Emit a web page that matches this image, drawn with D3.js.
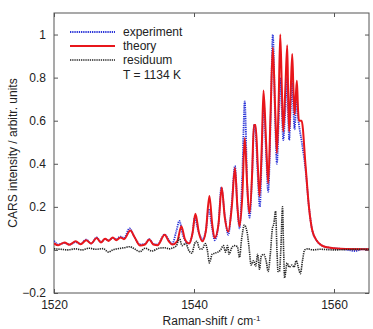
<!DOCTYPE html>
<html>
<head>
<meta charset="utf-8">
<script src="https://cdn.jsdelivr.net/npm/d3@7"></script>
<style>
  html, body { margin: 0; padding: 0; background: #fff; }
  svg { display: block; font-family: "Liberation Sans", Arial, sans-serif; }
</style>
</head>
<body>
<div id="chart"></div>
<script>
// Raman shift (cm^-1) and CARS intensity
const theoryShift = [1520.0,1520.6,1521.5,1522.2,1523.1,1523.8,1524.6,1525.3,1526.1,1526.7,1527.3,1527.8,1528.4,1528.9,1529.5,1530.0,1530.9,1531.5,1532.3,1533.0,1533.6,1534.2,1534.8,1535.8,1536.4,1536.9,1537.6,1538.2,1538.7,1539.3,1539.8,1540.2,1540.7,1541.2,1541.7,1542.2,1542.6,1542.95,1543.5,1543.96,1544.4,1544.9,1545.4,1545.85,1546.2,1546.5,1546.9,1547.25,1547.6,1547.92,1548.3,1548.55,1548.8,1549.1,1549.36,1549.7,1549.93,1550.3,1550.6,1550.95,1551.26,1551.6,1551.84,1552.1,1552.32,1552.55,1552.75,1553.05,1553.32,1553.46,1553.6,1553.8,1554.03,1554.2,1554.37,1554.55,1554.7,1554.85,1554.99,1555.37,1555.94,1556.42,1556.9,1557.6,1558.3,1559.05,1560.95,1565.0];
const theoryValues = [0.03,0.022,0.035,0.024,0.04,0.026,0.045,0.03,0.055,0.035,0.052,0.042,0.058,0.045,0.058,0.05,0.09,0.06,0.02,0.025,0.048,0.025,0.022,0.07,0.04,0.025,0.04,0.11,0.05,0.03,0.08,0.168,0.08,0.04,0.09,0.25,0.12,0.055,0.12,0.29,0.15,0.085,0.2,0.38,0.2,0.11,0.25,0.52,0.3,0.17,0.35,0.58,0.58,0.4,0.25,0.5,0.74,0.5,0.31,0.65,0.94,0.65,0.45,0.7,1.0,0.75,0.55,0.75,0.95,0.7,0.55,0.72,0.91,0.75,0.63,0.72,0.785,0.66,0.6,0.6,0.39,0.2,0.09,0.04,0.02,0.012,0.005,0.003];

const experimentShift = [1520.0,1520.6,1521.5,1522.2,1523.1,1523.8,1524.6,1525.3,1526.1,1526.7,1527.3,1527.8,1528.4,1528.9,1529.5,1530.0,1530.8,1531.5,1532.3,1533.0,1533.6,1534.2,1534.8,1535.8,1536.4,1536.9,1537.5,1537.9,1538.4,1539.2,1539.8,1540.1,1540.6,1541.2,1541.7,1542.1,1542.6,1542.95,1543.5,1543.9,1544.4,1544.9,1545.4,1545.85,1546.2,1546.5,1546.9,1547.25,1547.6,1547.95,1548.3,1548.6,1548.8,1549.1,1549.4,1549.7,1549.95,1550.3,1550.6,1550.95,1551.26,1551.6,1551.84,1552.1,1552.35,1552.55,1552.75,1553.05,1553.32,1553.46,1553.6,1553.8,1554.03,1554.2,1554.37,1554.55,1554.7,1554.85,1555.0,1555.4,1555.94,1556.42,1556.9,1557.6,1558.3,1559.05,1560.95,1562.0,1563.0,1564.0,1565.0];
const experimentValues = [0.042,0.026,0.032,0.025,0.036,0.028,0.048,0.03,0.058,0.036,0.05,0.045,0.055,0.05,0.062,0.055,0.1,0.06,0.025,0.028,0.05,0.028,0.025,0.072,0.045,0.03,0.09,0.135,0.07,0.03,0.08,0.15,0.09,0.05,0.09,0.19,0.1,0.045,0.12,0.29,0.16,0.07,0.22,0.39,0.2,0.1,0.35,0.69,0.3,0.15,0.35,0.58,0.55,0.35,0.2,0.45,0.68,0.45,0.27,0.6,1.0,0.6,0.4,0.6,0.8,0.65,0.51,0.65,0.8,0.62,0.51,0.65,0.78,0.65,0.56,0.65,0.7,0.62,0.58,0.5,0.37,0.2,0.09,0.04,0.02,0.012,0.005,0.0,-0.005,0.003,0.002];

const residuumShift = [1520,1521,1522,1523,1524,1525,1526,1527,1527.8,1528.4,1529,1530,1530.8,1531.5,1532.3,1533,1534,1535,1535.8,1536.5,1537,1537.5,1537.9,1538.3,1538.8,1539.3,1539.7,1540.1,1540.4,1540.8,1541.2,1541.6,1541.9,1542.2,1542.6,1543,1543.4,1543.8,1544.2,1544.5,1544.8,1545.0,1545.4,1545.8,1546.2,1546.5,1546.8,1547.2,1547.6,1547.9,1548.15,1548.5,1548.8,1549.1,1549.35,1549.6,1549.95,1550.3,1550.6,1550.9,1551.2,1551.4,1551.65,1551.85,1552.0,1552.2,1552.4,1552.65,1552.8,1552.95,1553.1,1553.3,1553.6,1554.0,1554.3,1554.6,1554.9,1555.2,1555.5,1555.8,1556.3,1557,1558,1560,1562,1565];
const residuumValues = [0.005,0.003,0.0,0.005,0.0,0.008,0.003,0.006,-0.01,0.0,0.005,0.01,0.015,0.005,-0.008,0.008,-0.005,0.008,0.01,0.005,0.01,0.02,0.055,0.02,0.03,-0.005,-0.015,0.03,0.04,0.005,0.005,0.03,0.0,-0.06,-0.02,-0.015,-0.01,0.0,0.02,-0.01,0.02,-0.02,0.01,0.02,0.015,-0.035,0.05,0.115,0.08,0.0,-0.07,-0.05,-0.075,-0.02,-0.09,-0.03,-0.02,-0.05,-0.1,-0.02,0.1,0.12,0.18,0.0,-0.1,-0.1,0.0,0.2,0.0,-0.13,-0.1,-0.06,-0.08,-0.07,-0.08,-0.05,-0.08,-0.11,-0.05,0.0,0.005,0.0,0.003,0.0,0.002,0.003];

const xTicks = [1520, 1540, 1560];
const yTicks = [-0.2, 0, 0.2, 0.4, 0.6, 0.8, 1];
const legendLabels = ['experiment', 'theory', 'residuum'];
const temperatureLabel = 'T = 1134 K';

const width = 373, height = 329;
const margin = { top: 13, right: 4, bottom: 36, left: 54 };

const svg = d3.select('#chart').append('svg')
  .attr('width', width)
  .attr('height', height);

const x = d3.scaleLinear().domain([1520, 1565]).range([margin.left, width - margin.right]);
const y = d3.scaleLinear().domain([-0.2, 1.1]).range([height - margin.bottom, margin.top]);

svg.append('clipPath').attr('id', 'plotClip')
  .append('rect')
  .attr('x', margin.left).attr('y', margin.top)
  .attr('width', width - margin.left - margin.right)
  .attr('height', height - margin.top - margin.bottom);

const axisColor = '#555';
const fontSize = 12;

// axes with inward ticks, mirrored on top and right
const xBottom = svg.append('g')
  .attr('transform', `translate(0, ${height - margin.bottom})`)
  .call(d3.axisBottom(x).tickValues(xTicks).tickSizeInner(-4).tickSizeOuter(0).tickPadding(7).tickFormat(d3.format('d')));
const xTop = svg.append('g')
  .attr('transform', `translate(0, ${margin.top})`)
  .call(d3.axisTop(x).tickValues(xTicks).tickSizeInner(-4).tickSizeOuter(0).tickFormat(''));
const yLeft = svg.append('g')
  .attr('transform', `translate(${margin.left}, 0)`)
  .call(d3.axisLeft(y).tickValues(yTicks).tickSizeInner(-4).tickSizeOuter(0).tickPadding(8).tickFormat(d => d3.format('')(+d.toFixed(1))));
const yRight = svg.append('g')
  .attr('transform', `translate(${width - margin.right}, 0)`)
  .call(d3.axisRight(y).tickValues(yTicks).tickSizeInner(-4).tickSizeOuter(0).tickFormat(''));

[xBottom, xTop, yLeft, yRight].forEach(g => {
  g.select('.domain').remove();
  g.selectAll('.tick line').attr('stroke', axisColor);
  g.selectAll('.tick text').attr('fill', '#222').attr('font-size', fontSize)
    .attr('font-family', '"Liberation Sans", Arial, sans-serif');
});

svg.append('rect')
  .attr('x', margin.left).attr('y', margin.top)
  .attr('width', width - margin.left - margin.right)
  .attr('height', height - margin.top - margin.bottom)
  .attr('fill', 'none')
  .attr('stroke', axisColor)
  .attr('stroke-width', 1);

const line = d3.line()
  .x(d => x(d[0]))
  .y(d => y(d[1]))
  .curve(d3.curveMonotoneX);

const plot = svg.append('g').attr('clip-path', 'url(#plotClip)');

const series = [
  { shift: experimentShift, values: experimentValues, color: '#2b35d8', width: 1.8, dash: '1.3,0.9' },
  { shift: theoryShift, values: theoryValues, color: '#e8161b', width: 2, dash: null },
  { shift: residuumShift, values: residuumValues, color: '#262626', width: 1.6, dash: '1.3,0.9' }
];

series.forEach(s => {
  plot.append('path')
    .datum(s.shift.map((v, i) => [v, s.values[i]]))
    .attr('d', line)
    .attr('fill', 'none')
    .attr('stroke', s.color)
    .attr('stroke-width', s.width)
    .attr('stroke-dasharray', s.dash);
});

// legend
const legend = svg.append('g').attr('transform', 'translate(70, 32)');
series.forEach((s, i) => {
  legend.append('line')
    .attr('x1', 0).attr('x2', 45)
    .attr('y1', i * 14).attr('y2', i * 14)
    .attr('stroke', s.color)
    .attr('stroke-width', s.width)
    .attr('stroke-dasharray', s.dash);
  legend.append('text')
    .attr('x', 53).attr('y', i * 14 + 4)
    .attr('font-size', fontSize)
    .attr('fill', '#222')
    .text(legendLabels[i]);
});
legend.append('text')
  .attr('x', 53).attr('y', 3 * 14 + 5)
  .attr('font-size', fontSize)
  .attr('fill', '#222')
  .text(temperatureLabel);

// axis titles
const xTitle = svg.append('text')
  .attr('x', (margin.left + width - margin.right) / 2)
  .attr('y', 325)
  .attr('text-anchor', 'middle')
  .attr('font-size', fontSize)
  .attr('fill', '#222');
xTitle.append('tspan').text('Raman-shift / cm');
xTitle.append('tspan').attr('dy', -4).attr('font-size', 8).text('-1');

svg.append('text')
  .attr('transform', `translate(17, ${(margin.top + height - margin.bottom) / 2}) rotate(-90)`)
  .attr('text-anchor', 'middle')
  .attr('font-size', fontSize)
  .attr('fill', '#222')
  .text('CARS intensity / arbitr. units');
</script>
</body>
</html>
